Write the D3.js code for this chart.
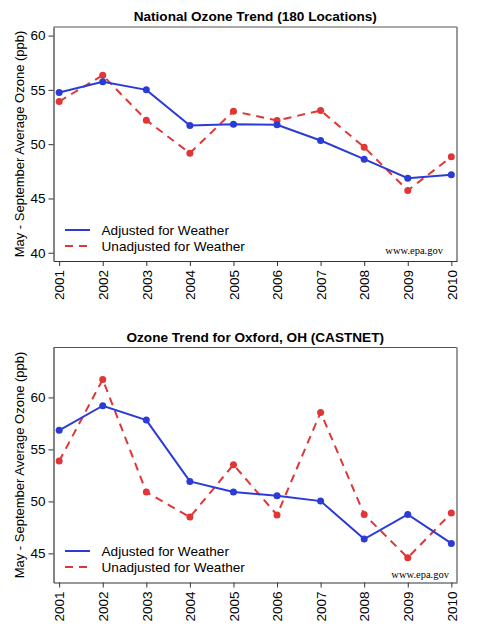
<!DOCTYPE html>
<html>
<head>
<meta charset="utf-8">
<script src="https://cdn.jsdelivr.net/npm/d3@7"></script>
<style>
  body { margin: 0; background: #fff; }
  svg { display: block; font-family: "Liberation Sans", Arial, sans-serif; }
</style>
</head>
<body>
<svg id="chart"></svg>
<script>
// data
const years = ['2001', '2002', '2003', '2004', '2005', '2006', '2007', '2008', '2009', '2010'];

const nationalAdjusted = [54.75, 55.74, 55.0, 51.72, 51.84, 51.78, 50.34, 48.62, 46.87, 47.18];
const nationalUnadjusted = [53.93, 56.35, 52.21, 49.17, 53.04, 52.18, 53.1, 49.72, 45.74, 48.83];
const nationalTicks = [40, 45, 50, 55, 60];

const oxfordAdjusted = [56.83, 59.2, 57.82, 51.92, 50.9, 50.55, 50.03, 46.38, 48.75, 45.96];
const oxfordUnadjusted = [53.88, 61.73, 50.9, 48.49, 53.53, 48.69, 58.56, 48.75, 44.58, 48.88];
const oxfordTicks = [45, 50, 55, 60];

const seriesNames = ['Adjusted for Weather', 'Unadjusted for Weather'];

const width = 479, height = 629;
const blue = '#2b3bd6', red = '#e03636';

const svg = d3.select('#chart')
  .attr('width', width)
  .attr('height', height);

function drawPanel(opts) {
  const left = 53.5, right = 457;
  const top = opts.top, bottom = opts.bottom;

  const g = svg.append('g');

  const x = d3.scalePoint()
    .domain(years)
    .range([left, right])
    .padding(0.13);

  const y = d3.scaleLinear()
    .domain(opts.yDomain)
    .range([bottom, top]);

  // title
  g.append('text')
    .attr('x', (left + right) / 2)
    .attr('y', top - 6)
    .attr('text-anchor', 'middle')
    .attr('font-size', '13.6px')
    .attr('font-weight', 'bold')
    .text(opts.title);

  // frame: top/right lighter, left/bottom dark
  g.append('line').attr('x1', left).attr('x2', right).attr('y1', top).attr('y2', top)
    .attr('stroke', '#555').attr('stroke-width', 1);
  g.append('line').attr('x1', right).attr('x2', right).attr('y1', top).attr('y2', bottom)
    .attr('stroke', '#999').attr('stroke-width', 2);

  // y axis
  const yAxis = g.append('g')
    .attr('transform', `translate(${left},0)`)
    .call(d3.axisLeft(y).tickValues(opts.ticks).tickSize(5).tickSizeOuter(0).tickPadding(3));
  yAxis.select('.domain').attr('stroke', '#333').attr('stroke-width', 1.2);
  yAxis.selectAll('.tick line').attr('stroke', '#333');
  yAxis.selectAll('.tick text')
    .attr('font-size', '13.5px')
    .attr('font-family', '"Liberation Sans", Arial, sans-serif')
    .attr('fill', '#000');

  // x axis
  const xAxis = g.append('g')
    .attr('transform', `translate(0,${bottom})`)
    .call(d3.axisBottom(x).tickSize(5).tickSizeOuter(0));
  xAxis.select('.domain').attr('stroke', '#333').attr('stroke-width', 1.2);
  xAxis.selectAll('.tick line').attr('stroke', '#333');
  xAxis.selectAll('.tick text')
    .attr('font-size', '13.5px')
    .attr('font-family', '"Liberation Sans", Arial, sans-serif')
    .attr('fill', '#000')
    .attr('transform', 'rotate(-90)')
    .attr('text-anchor', 'end')
    .attr('x', -9)
    .attr('y', 0)
    .attr('dy', '0.35em');

  // y label
  g.append('text')
    .attr('transform', `translate(24,${(top + bottom) / 2}) rotate(-90)`)
    .attr('text-anchor', 'middle')
    .attr('font-size', '13px')
    .text('May - September Average Ozone (ppb)');

  const line = d3.line()
    .x((d, i) => x(years[i]))
    .y(d => y(d));

  // unadjusted (dashed red)
  g.append('path')
    .datum(opts.unadjusted)
    .attr('d', line)
    .attr('fill', 'none')
    .attr('stroke', red)
    .attr('stroke-width', 2)
    .attr('stroke-dasharray', '8,6');

  // adjusted (solid blue)
  g.append('path')
    .datum(opts.adjusted)
    .attr('d', line)
    .attr('fill', 'none')
    .attr('stroke', blue)
    .attr('stroke-width', 2);

  g.selectAll('.pu')
    .data(opts.unadjusted)
    .join('circle')
    .attr('cx', (d, i) => x(years[i]))
    .attr('cy', d => y(d))
    .attr('r', 3.5)
    .attr('fill', red);

  g.selectAll('.pa')
    .data(opts.adjusted)
    .join('circle')
    .attr('cx', (d, i) => x(years[i]))
    .attr('cy', d => y(d))
    .attr('r', 3.5)
    .attr('fill', blue);

  // legend
  const legY = opts.legendY;
  seriesNames.forEach(function(name, i) {
    const ly = legY + i * 16;
    g.append('line')
      .attr('x1', 65).attr('x2', 90)
      .attr('y1', ly).attr('y2', ly)
      .attr('stroke', i === 0 ? blue : red)
      .attr('stroke-width', 2)
      .attr('stroke-dasharray', i === 0 ? null : '8,6');
    g.append('text')
      .attr('x', 101.5)
      .attr('y', ly)
      .attr('dy', '0.35em')
      .attr('font-size', '13.6px')
      .text(name);
  });

  g.append('text')
    .attr('x', opts.sourceX)
    .attr('y', opts.sourceY)
    .attr('text-anchor', 'end')
    .attr('font-size', '10.5px')
    .attr('font-family', '"Liberation Serif", "DejaVu Serif", serif')
    .text('www.epa.gov');
}

drawPanel({
  title: 'National Ozone Trend (180 Locations)',
  top: 27, bottom: 261,
  yDomain: [39.24, 60.79],
  ticks: nationalTicks,
  adjusted: nationalAdjusted,
  unadjusted: nationalUnadjusted,
  legendY: 230,
  sourceX: 443, sourceY: 254
});

drawPanel({
  title: 'Ozone Trend for Oxford, OH (CASTNET)',
  top: 347.5, bottom: 582.5,
  yDomain: [42.2, 64.8],
  ticks: oxfordTicks,
  adjusted: oxfordAdjusted,
  unadjusted: oxfordUnadjusted,
  legendY: 551,
  sourceX: 449, sourceY: 578
});
</script>
</body>
</html>
